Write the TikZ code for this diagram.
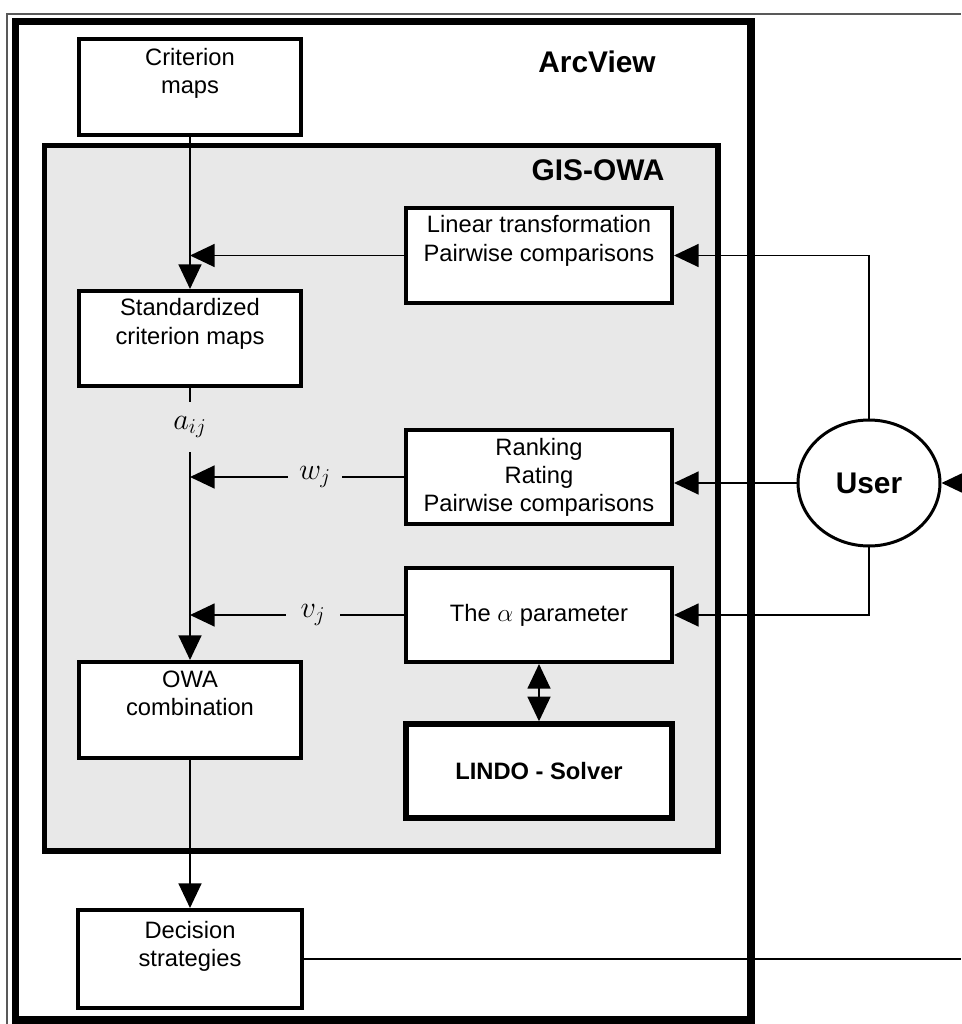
\documentclass[tikz,border=0pt]{standalone}
\usepackage{fontspec}
\setmainfont{Liberation Sans}
\usetikzlibrary{arrows.meta,shapes.geometric}

\tikzset{
  box/.style={draw, line width=2.3pt, fill=white, inner sep=0pt, align=center,
    minimum width=5.32cm, minimum height=1.88cm, font=\fontsize{13.5}{16}\selectfont},
  conn/.style={line width=1.1pt},
  title/.style={font=\fontsize{17}{20}\selectfont\bfseries},
  sym/.style={inner sep=0pt, minimum width=1.08cm, minimum height=1cm, font=\fontsize{17.28}{20}\selectfont},
  >={Triangle[length=14pt,width=13pt]}
}

\begin{document}
\begin{tikzpicture}[x=0.02cm,y=-0.02cm]
        \useasboundingbox (0,0) rectangle (961,1024);
        \draw[line width=1.1pt, black!65] (7,1024) -- (7,14) -- (961,14);
        \draw[line width=4pt] (15.5,21.5) rectangle (751,1020);
        \draw[line width=3.4pt, fill=black!9] (44.5,145.5) rectangle (718,851);
        \node[title] (arcview) at (597,62) {ArcView};
        \node[title] (gisowa) at (598,170) {GIS-OWA};
        \node[box, minimum width=4.44cm, minimum height=1.92cm, text depth=18pt] (crit) at (190,87) {Criterion\\maps};
        \node[box, minimum width=4.44cm, minimum height=1.90cm, text depth=19.5pt] (std) at (190,338.5) {Standardized\\criterion maps};
        \node[box, minimum width=4.44cm, minimum height=1.92cm, text depth=19pt] (owa) at (190,710) {OWA\\combination};
        \node[box, minimum width=4.48cm, minimum height=1.96cm, text depth=17pt] (dec) at (190,959) {Decision\\strategies};
        \node[box, minimum height=1.90cm, text depth=19.5pt] (lin) at (539,255.5) {Linear transformation\\Pairwise comparisons};
        \node[box] (rank) at (539,477) {Ranking\\Rating\\Pairwise comparisons};
        \node[box] (alpha) at (539,615) {The $\alpha$ parameter};
        \node[box, line width=3.1pt, font=\fontsize{13.5}{16}\selectfont\bfseries] (lindo) at (539,771) {LINDO - Solver};
        \node[draw, ellipse, line width=1.7pt, inner sep=0pt, minimum width=2.84cm, minimum height=2.52cm, title] (user) at (869,483) {User};
        \node[sym] (aij) at (190,427) {$a_{ij}$};
        \node[sym] (wj) at (315,477) {$w_j$};
        \node[sym] (vj) at (313,615) {$v_j$};
        \coordinate (rimIn) at (961,483);
        \coordinate (rimOut) at (961,959);
        \draw[conn,->] (crit.south) -- (std.north);
        \draw[conn,->] (lin.west) -- (lin.west -| std.north);
        \draw[conn] (std.south) -- (aij.north);
        \draw[conn,->] (aij.south) -- (owa.north);
        \foreach \Src/\Lab in {rank/wj, alpha/vj}
        {
        \draw[conn] (\Src.west) -- (\Lab.east);
        \draw[conn,->] (\Lab.west) -- (\Lab.west -| owa.north);
        }
        \draw[conn,<->] (alpha.south) -- (lindo.north);
        \draw[conn,->] (owa.south) -- (dec.north);
        \draw[conn,->] (user.north) |- (lin.east);
        \draw[conn,->] (user.west) -- (user.west -| rank.east);
        \draw[conn,->] (user.south) |- (alpha.east);
        \draw[conn,->] (rimIn) -- (user.east);
        \draw[conn] (dec.east) -- (rimOut);
\end{tikzpicture}
\end{document}
